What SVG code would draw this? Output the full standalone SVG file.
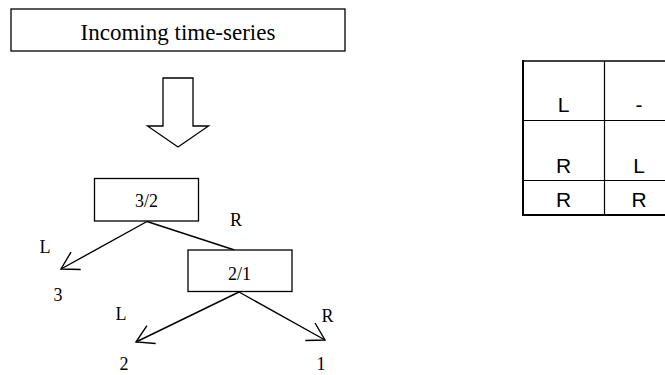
<svg xmlns="http://www.w3.org/2000/svg" width="665" height="375" viewBox="0 0 665 375">
<style>
.box{fill:#fff;stroke:#000;stroke-width:1.3}
.ser{font-family:"Liberation Serif","Times New Roman",serif;fill:#000;text-anchor:middle}
.lb{font-size:18px}
.san{font-family:"Liberation Sans",Arial,sans-serif;fill:#000;font-size:21px;text-anchor:middle}
.ln{stroke:#000;stroke-width:1.4;fill:none}
</style>
<defs>
<marker id="v" markerUnits="userSpaceOnUse" markerWidth="40" markerHeight="40" refX="0" refY="0" viewBox="-20 -20 40 40" orient="auto" overflow="visible">
<path d="M-17,-10 L0,0 L-17,10" fill="none" stroke="#000" stroke-width="1.4"/>
</marker>
</defs>
<rect width="665" height="375" fill="#fff"/>
<g id="incoming">
<rect class="box" x="11" y="9" width="334" height="42"/>
<text class="ser" x="178" y="40" font-size="23">Incoming time-series</text>
</g>
<g id="bigarrow">
<polygon class="box" points="163,78 193,78 193,126 208.5,126 178,147 147.5,126 163,126"/>
</g>
<g id="connectors">
<line class="ln" x1="147" y1="221.5" x2="234.5" y2="250"/>
<line class="ln" x1="147" y1="221.5" x2="61" y2="269" marker-end="url(#v)"/>
<line class="ln" x1="239" y1="292" x2="136" y2="342" marker-end="url(#v)"/>
<line class="ln" x1="239" y1="292" x2="325" y2="340" marker-end="url(#v)"/>
</g>
<g id="node32">
<rect class="box" x="94.5" y="178.5" width="104" height="42.5"/>
<text class="ser" x="146.5" y="207" font-size="18">3/2</text>
</g>
<g id="node21">
<rect class="box" x="188" y="250" width="104" height="41.5"/>
<text class="ser" x="239.5" y="279.5" font-size="18">2/1</text>
</g>
<g id="labels">
<text class="ser lb" x="45" y="253">L</text>
<text class="ser lb" x="236" y="226">R</text>
<text class="ser lb" x="58" y="300.5">3</text>
<text class="ser lb" x="121" y="320">L</text>
<text class="ser lb" x="327.5" y="321.5">R</text>
<text class="ser lb" x="124" y="370">2</text>
<text class="ser lb" x="321" y="370">1</text>
</g>
<g id="table">
<line stroke="#000" stroke-width="1.5" x1="522.5" y1="61" x2="665" y2="61"/>
<line stroke="#000" stroke-width="1.2" x1="522.5" y1="120.5" x2="665" y2="120.5"/>
<line stroke="#000" stroke-width="1.2" x1="522.5" y1="180.5" x2="665" y2="180.5"/>
<line stroke="#000" stroke-width="1.8" x1="522" y1="215" x2="665" y2="215"/>
<line stroke="#000" stroke-width="2" x1="523" y1="60" x2="523" y2="216"/>
<line stroke="#000" stroke-width="1.2" x1="604.5" y1="61" x2="604.5" y2="215"/>
<text class="san" x="563.5" y="112">L</text>
<text class="san" x="639" y="112">-</text>
<text class="san" x="563.5" y="172.5">R</text>
<text class="san" x="639" y="172.5">L</text>
<text class="san" x="563.5" y="207">R</text>
<text class="san" x="639" y="207">R</text>
</g>
</svg>
